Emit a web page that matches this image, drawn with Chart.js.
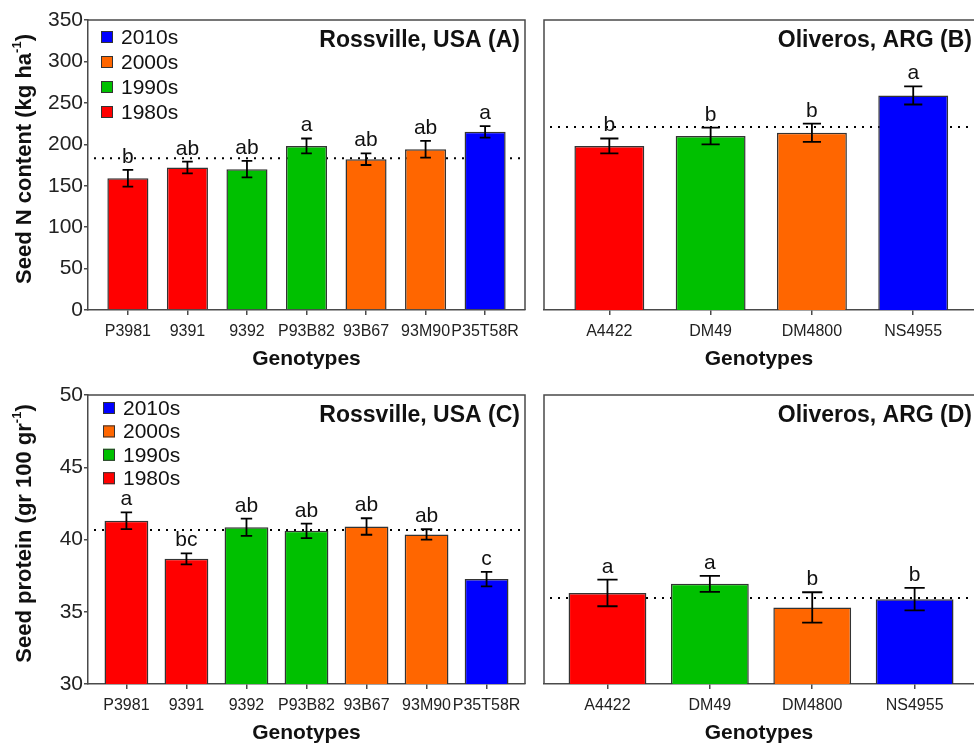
<!DOCTYPE html>
<html>
<head>
<meta charset="utf-8">
<script src="https://cdn.jsdelivr.net/npm/chart.js@4.4.1/dist/chart.umd.min.js"></script>
<style>
  html, body { margin: 0; padding: 0; background: #fff; overflow: hidden; }
  #wrap { position: relative; width: 974px; height: 745px; }
  canvas { position: absolute; }
</style>
</head>
<body>
<div id="wrap">
  <canvas id="chartA" width="535" height="375" style="left:0;top:0"></canvas>
  <canvas id="chartB" width="440" height="375" style="left:534px;top:0"></canvas>
  <canvas id="chartC" width="535" height="370" style="left:0;top:375px"></canvas>
  <canvas id="chartD" width="440" height="370" style="left:534px;top:375px"></canvas>
</div>
<script>
// decades (legend order top to bottom) and their colours
const legendDecades = ['2010s', '2000s', '1990s', '1980s'];
const decadeColors = { '1980s': '#ff0000', '1990s': '#00c000', '2000s': '#ff6600', '2010s': '#0000ff' };

// genotypes per site
const usaGenotypes = ['P3981', '9391', '9392', 'P93B82', '93B67', '93M90', 'P35T58R'];
const usaDecades = ['1980s', '1980s', '1990s', '1990s', '2000s', '2000s', '2010s'];
const argGenotypes = ['A4422', 'DM49', 'DM4800', 'NS4955'];
const argDecades = ['1980s', '1990s', '2000s', '2010s'];

// seed N content (kg ha-1)
const seedNUsa = [159, 172, 170, 198, 182, 194, 215];
const seedNUsaErr = [10, 7, 10, 9, 7, 10, 7];
const seedNUsaLetters = ['b', 'ab', 'ab', 'a', 'ab', 'ab', 'a'];
const seedNUsaMean = 183;

const seedNArg = [198, 210, 214, 259];
const seedNArgErr = [9, 10, 11, 11];
const seedNArgLetters = ['b', 'b', 'b', 'a'];
const seedNArgMean = 221;

// seed protein (gr 100 gr-1)
const proteinUsa = [41.3, 38.66, 40.85, 40.6, 40.9, 40.35, 37.26];
const proteinUsaErr = [0.58, 0.38, 0.6, 0.5, 0.57, 0.36, 0.5];
const proteinUsaLetters = ['a', 'bc', 'ab', 'ab', 'ab', 'ab', 'c'];
const proteinUsaMean = 40.66;

const proteinArg = [36.3, 36.93, 35.3, 35.87];
const proteinArgErr = [0.92, 0.55, 1.05, 0.78];
const proteinArgLetters = ['a', 'a', 'b', 'b'];
const proteinArgMean = 35.96;

// y tick labels
const seedNTicks = [0, 50, 100, 150, 200, 250, 300, 350];
const proteinTicks = [30, 35, 40, 45, 50];

const FONT = "'Liberation Sans', Arial, Helvetica, sans-serif";
const AXIS = '#4a4a4a';
Chart.defaults.font.family = FONT;
Chart.defaults.color = '#222';

function makePanel(id, cfg) {
    const decor = {
        id: 'decor',
        beforeDatasetsDraw(chart) {
            // dotted overall mean, behind the bars
            const { ctx, chartArea: a, scales: { y } } = chart;
            const py = y.getPixelForValue(cfg.mean);
            ctx.save();
            ctx.strokeStyle = '#000';
            ctx.lineWidth = 2;
            ctx.setLineDash([2, 6]);
            ctx.beginPath();
            ctx.moveTo(a.left + 6, py);
            ctx.lineTo(a.right, py);
            ctx.stroke();
            ctx.restore();
        },
        afterDatasetsDraw(chart) {
            const { ctx, scales: { y } } = chart;
            const meta = chart.getDatasetMeta(0);
            ctx.save();
            meta.data.forEach((bar, i) => {
                const v = cfg.values[i], e = cfg.errors[i];
                const top = y.getPixelForValue(v + e);
                const bot = y.getPixelForValue(v - e);
                const half = bar.width * 0.13;
                ctx.strokeStyle = '#000';
                ctx.lineWidth = 1.8;
                ctx.beginPath();
                ctx.moveTo(bar.x, top); ctx.lineTo(bar.x, bot);
                ctx.moveTo(bar.x - half, top); ctx.lineTo(bar.x + half, top);
                ctx.moveTo(bar.x - half, bot); ctx.lineTo(bar.x + half, bot);
                ctx.stroke();
                ctx.fillStyle = '#111';
                ctx.font = '21px ' + FONT;
                ctx.textAlign = 'center';
                ctx.textBaseline = 'alphabetic';
                ctx.fillText(cfg.letters[i], bar.x, top - 7);
            });
            ctx.restore();
        },
        afterDraw(chart) {
            const { ctx, chartArea: a } = chart;
            ctx.save();
            // frame
            ctx.strokeStyle = AXIS;
            ctx.lineWidth = 1.5;
            ctx.beginPath();
            if (cfg.showY) {
                ctx.moveTo(a.left, a.top); ctx.lineTo(a.right, a.top); ctx.lineTo(a.right, a.bottom);
            } else {
                ctx.moveTo(a.left, a.bottom); ctx.lineTo(a.left, a.top); ctx.lineTo(a.right + 2, a.top);
            }
            ctx.stroke();

            // panel title
            ctx.fillStyle = '#111';
            ctx.font = 'bold 23px ' + FONT;
            ctx.textAlign = 'right';
            ctx.textBaseline = 'alphabetic';
            ctx.fillText(cfg.title, a.right - cfg.titleInset, a.top + 27);

            // x axis title
            ctx.font = 'bold 21px ' + FONT;
            ctx.textAlign = 'center';
            ctx.fillText('Genotypes', (a.left + a.right) / 2, a.bottom + 55);

            // legend
            if (cfg.legend) {
                const L = cfg.legend;
                ctx.font = '21px ' + FONT;
                ctx.textAlign = 'left';
                ctx.textBaseline = 'middle';
                legendDecades.forEach((d, k) => {
                    const cy = a.top + L.y0 + k * L.dy;
                    ctx.fillStyle = decadeColors[d];
                    ctx.fillRect(a.left + L.x0, cy - 6, 12, 12);
                    ctx.strokeStyle = '#333';
                    ctx.lineWidth = 1;
                    ctx.strokeRect(a.left + L.x0 + 0.5, cy - 5.5, 11, 11);
                    ctx.fillStyle = '#111';
                    ctx.fillText(d, a.left + L.x0 + 20, cy + 1);
                });
            }

            // y axis title with superscript
            if (cfg.yTitle) {
                const [main, sup, tail] = cfg.yTitle;
                const big = 'bold 22px ' + FONT, small = 'bold 13px ' + FONT;
                ctx.font = big; const w1 = ctx.measureText(main).width; const w3 = ctx.measureText(tail).width;
                ctx.font = small; const w2 = ctx.measureText(sup).width;
                const total = w1 + w2 + w3;
                ctx.translate(31, (a.top + a.bottom) / 2 - 6);
                ctx.rotate(-Math.PI / 2);
                ctx.fillStyle = '#111';
                ctx.textAlign = 'left';
                ctx.textBaseline = 'alphabetic';
                let x = -total / 2;
                ctx.font = big; ctx.fillText(main, x, 0); x += w1;
                ctx.font = small; ctx.fillText(sup, x, -10); x += w2;
                ctx.font = big; ctx.fillText(tail, x, 0);
            }
            ctx.restore();
        }
    };

    return new Chart(document.getElementById(id), {
        type: 'bar',
        data: {
            datasets: [{
                data: cfg.values.map((v, i) => ({ x: i, y: v })),
                backgroundColor: cfg.decades.map(d => decadeColors[d]),
                borderColor: '#333',
                borderWidth: 1.5,
                borderSkipped: 'start',
                barPercentage: cfg.barPct,
                categoryPercentage: 1
            }]
        },
        options: {
            responsive: false,
            animation: false,
            devicePixelRatio: 1,
            layout: { padding: cfg.padding },
            plugins: { legend: { display: false }, tooltip: { enabled: false } },
            scales: {
                x: {
                    type: 'linear',
                    offset: false,
                    min: cfg.xMin,
                    max: cfg.xMax,
                    afterBuildTicks: s => { s.ticks = cfg.labels.map((_, i) => ({ value: i })); },
                    afterFit: s => { s.height = cfg.xHeight; },
                    ticks: {
                        autoSkip: false,
                        maxRotation: 0,
                        padding: 7,
                        color: '#222',
                        font: { size: 16 },
                        callback: v => cfg.labels[v] ?? ''
                    },
                    grid: { offset: false, drawOnChartArea: false, drawTicks: true, tickLength: 5, tickColor: AXIS, lineWidth: 1.5 },
                    border: { display: true, color: AXIS, width: 1.5 }
                },
                y: {
                    display: cfg.showY,
                    min: cfg.yTicks[0],
                    max: cfg.yTicks[cfg.yTicks.length - 1],
                    afterBuildTicks: s => { s.ticks = cfg.yTicks.map(v => ({ value: v })); },
                    afterFit: s => { if (cfg.showY) s.width = 88; },
                    ticks: { padding: 1, color: '#222', font: { size: 21 } },
                    grid: { drawOnChartArea: false, drawTicks: true, tickLength: 4, tickColor: AXIS, lineWidth: 1.5 },
                    border: { display: true, color: AXIS, width: 1.5 }
                }
            }
        },
        plugins: [decor]
    });
}

makePanel('chartA', {
    labels: usaGenotypes, decades: usaDecades, values: seedNUsa, errors: seedNUsaErr,
    letters: seedNUsaLetters, mean: seedNUsaMean, yTicks: seedNTicks, showY: true,
    title: 'Rossville, USA (A)', titleInset: 5,
    yTitle: ['Seed N content (kg ha', '-1', ')'],
    legend: { x0: 13, y0: 17, dy: 25 },
    padding: { left: 0, top: 20, right: 10, bottom: 0 }, xHeight: 65,
    xMin: -0.67, xMax: 6.67, barPct: 0.69
});

makePanel('chartB', {
    labels: argGenotypes, decades: argDecades, values: seedNArg, errors: seedNArgErr,
    letters: seedNArgLetters, mean: seedNArgMean, yTicks: seedNTicks, showY: false,
    title: 'Oliveros, ARG (B)', titleInset: 2,
    padding: { left: 10, top: 20, right: 0, bottom: 0 }, xHeight: 65,
    xMin: -0.645, xMax: 3.6, barPct: 0.69
});

makePanel('chartC', {
    labels: usaGenotypes, decades: usaDecades, values: proteinUsa, errors: proteinUsaErr,
    letters: proteinUsaLetters, mean: proteinUsaMean, yTicks: proteinTicks, showY: true,
    title: 'Rossville, USA (C)', titleInset: 5,
    yTitle: ['Seed protein (gr 100 gr', '-1', ')'],
    legend: { x0: 15, y0: 13, dy: 23.4 },
    padding: { left: 0, top: 20, right: 10, bottom: 0 }, xHeight: 61,
    xMin: -0.64, xMax: 6.64, barPct: 0.73
});

makePanel('chartD', {
    labels: argGenotypes, decades: argDecades, values: proteinArg, errors: proteinArgErr,
    letters: proteinArgLetters, mean: proteinArgMean, yTicks: proteinTicks, showY: false,
    title: 'Oliveros, ARG (D)', titleInset: 2,
    padding: { left: 10, top: 20, right: 0, bottom: 0 }, xHeight: 61,
    xMin: -0.62, xMax: 3.58, barPct: 0.76
});
</script>
</body>
</html>
